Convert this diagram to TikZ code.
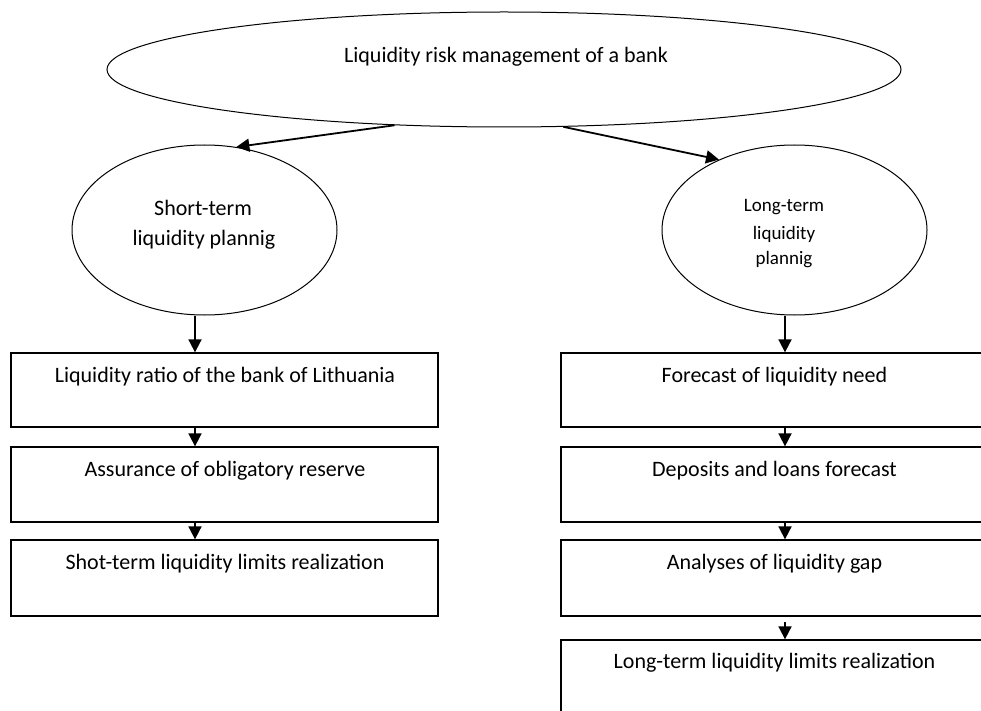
\documentclass[tikz,border=0pt]{standalone}
\usepackage{fontspec}
\setmainfont{Carlito}
\usetikzlibrary{shapes.geometric,arrows.meta}
\begin{document}
\begin{tikzpicture}[x=1pt,y=-1pt,
 ell/.style={draw,ellipse,line width=1pt,inner sep=0pt},
 box/.style={draw,rectangle,line width=1.3pt,inner sep=0pt},
 txt/.style={inner sep=0pt,font=\fontsize{22}{26}\selectfont},
 stxt/.style={inner sep=0pt,font=\fontsize{19}{26.5}\selectfont},
 arr/.style={line width=1.8pt,-{Triangle[length=13pt,width=13pt]}}]
\useasboundingbox (0,0) rectangle (981,711);
\clip (0,0) rectangle (981,711);
% ellipses
\node[ell,minimum width=794,minimum height=115] (top) at (504,69.5) {};
\node[txt] (toptxt) at (506,57) {Liquidity risk management of a bank};
\node[ell,minimum width=265,minimum height=170] (lell) at (204.5,230) {};
\node[txt] (lt1) at (203,208) {Short-term};
\node[txt] (lt2) at (204,240) {liquidity plannig};
\node[ell,minimum width=265,minimum height=170] (rell) at (794.5,230) {};
\node[stxt] (rt1) at (784,207) {Long-term};
\node[stxt] (rt2) at (784,234) {liquidity};
\begin{scope}
\clip (700,245) rectangle (870,267.5);
\node[stxt] (rt3) at (784,260) {plannig};
\end{scope}
% left boxes
\node[box,minimum width=427,minimum height=74] (lb1) at (224.5,390) {};
\node[box,minimum width=427,minimum height=75] (lb2) at (224.5,484.5) {};
\node[box,minimum width=427,minimum height=76] (lb3) at (224.5,578) {};
\node[txt] (lb1t) at (225,377) {Liquidity ratio of the bank of Lithuania};
\node[txt] (lb2t) at (225,471) {Assurance of obligatory reserve};
\node[txt] (lb3t) at (225,564) {Shot-term liquidity limits realization};
% right boxes (cut off at the right edge)
\node[box,minimum width=450,minimum height=74] (rb1) at (786,390) {};
\node[box,minimum width=450,minimum height=75] (rb2) at (786,484.5) {};
\node[box,minimum width=450,minimum height=76] (rb3) at (786,578) {};
\node[box,minimum width=450,minimum height=80] (rb4) at (786,680) {};
\node[txt] (rb1t) at (774.5,377) {Forecast of liquidity need};
\node[txt] (rb2t) at (774.5,471) {Deposits and loans forecast};
\node[txt] (rb3t) at (774.5,564) {Analyses of liquidity gap};
\node[txt] (rb4t) at (774.5,663) {Long-term liquidity limits realization};
% connectors
\coordinate (lx) at (195,0);
\coordinate (rx) at (785,0);
\coordinate (r34) at (785,622);
\draw[arr] (top.207.6) -- (lell.69);
\draw[arr] (top.-44.7) -- (rell.137.3);
\draw[arr] (lell.south -| lx) -- (lb1.north -| lx);
\draw[arr] (lb1.south -| lx) -- (lb2.north -| lx);
\draw[arr] (lb2.south -| lx) -- (lb3.north -| lx);
\draw[arr] (rell.south -| rx) -- (rb1.north -| rx);
\draw[arr] (rb1.south -| rx) -- (rb2.north -| rx);
\draw[arr] (rb2.south -| rx) -- (rb3.north -| rx);
\draw[arr] (r34) -- (rb4.north -| rx);
\end{tikzpicture}
\end{document}
